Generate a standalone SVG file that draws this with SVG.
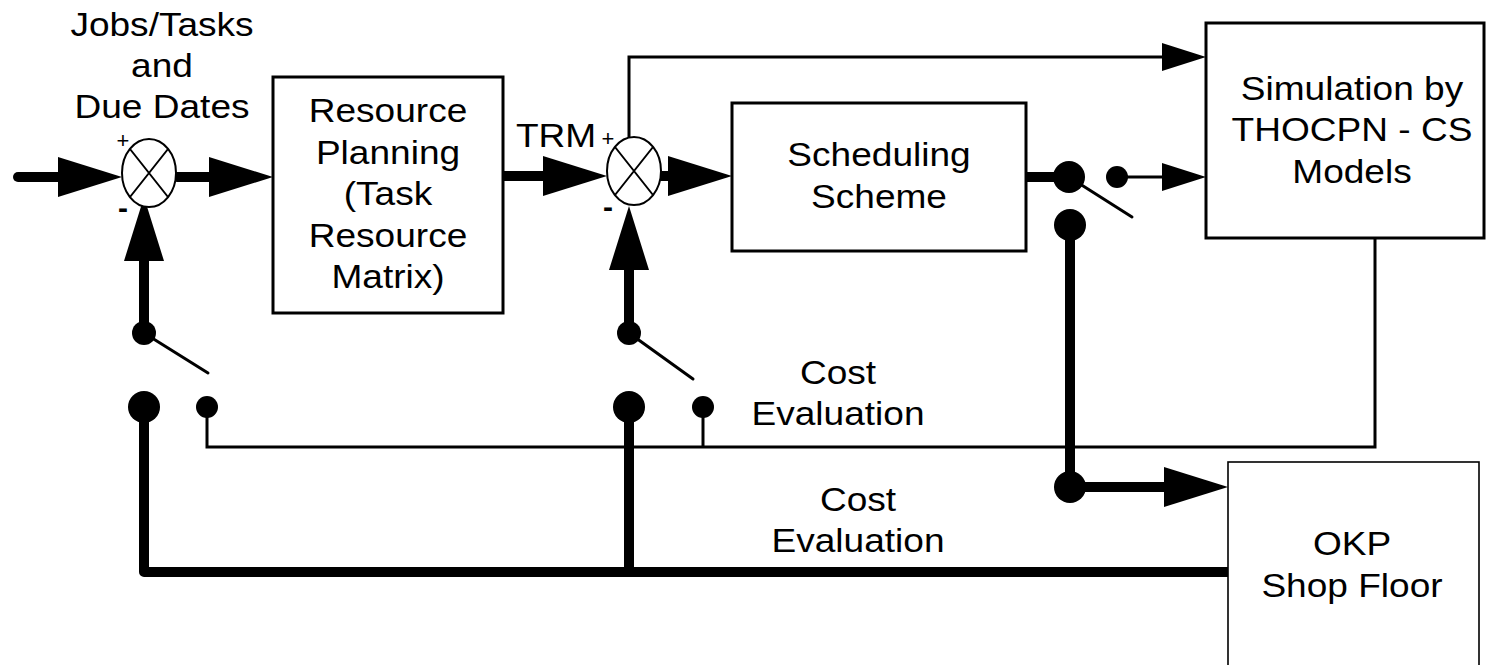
<svg xmlns="http://www.w3.org/2000/svg" xmlns:xlink="http://www.w3.org/1999/xlink" width="1486" height="665" viewBox="0 0 1486 665">
  <style>
    .box { fill: #fff; stroke: #000; stroke-width: 3; }
    .box-thin { fill: #fff; stroke: #000; stroke-width: 1.6; }
    .sum { fill: #fff; stroke: #000; stroke-width: 2; }
    .cross { stroke: #000; stroke-width: 2; fill: none; }
    .thick { fill: none; stroke: #000; stroke-width: 10; stroke-linecap: round; stroke-linejoin: round; }
    .thin { fill: none; stroke: #000; stroke-width: 3; stroke-linecap: butt; stroke-linejoin: miter; }
    .lever { stroke: #000; stroke-width: 3; stroke-linecap: round; }
    .dot { fill: #000; }
    .lbl { font-family: "Liberation Sans", Arial, sans-serif; font-size: 34px; fill: #000; text-anchor: middle; }
    .plus { font-family: "Liberation Sans", Arial, sans-serif; font-size: 22px; fill: #000; text-anchor: middle; }
    .minus { font-family: "Liberation Sans", Arial, sans-serif; font-size: 30px; font-weight: bold; fill: #000; text-anchor: middle; }
  </style>
  <defs>
    <!-- arrowheads drawn with the tip at the origin, pointing along +x -->
    <path id="ah-thick" d="M-64,-20 L0,0 L-64,20 Z" fill="#000"/>
    <path id="ah-thin" d="M-44,-14 L0,0 L-44,14 Z" fill="#000"/>
  </defs>

  <rect width="1486" height="665" fill="#fff"/>

  <!-- connectors -->
  <g id="connectors">
    <!-- main forward path -->
    <path class="thick" d="M18,177 H62"/>
    <use xlink:href="#ah-thick" transform="translate(122,177)"/>
    <path class="thick" d="M177,177 H212"/>
    <use xlink:href="#ah-thick" transform="translate(273,177)"/>
    <path class="thick" d="M503,176 H548"/>
    <use xlink:href="#ah-thick" transform="translate(607,176)"/>
    <path class="thick" d="M661,176 H672"/>
    <use xlink:href="#ah-thick" transform="translate(732,176)"/>

    <!-- feedback into the summing junctions -->
    <path class="thick" d="M144,333 V258"/>
    <use xlink:href="#ah-thick" transform="translate(144,197) rotate(-90)"/>
    <path class="thick" d="M629,333 V266"/>
    <use xlink:href="#ah-thick" transform="translate(629,206) rotate(-90)"/>

    <!-- bypass to the simulation model -->
    <path class="thin" d="M629,138 V57 H1166"/>
    <use xlink:href="#ah-thin" transform="translate(1206,57)"/>

    <!-- schedule output switch -->
    <path class="thick" d="M1026,177 H1069"/>
    <path class="thin" d="M1117,177 H1166"/>
    <use xlink:href="#ah-thin" transform="translate(1206,177)"/>
    <path class="thick" d="M1070,225 V487 H1166"/>
    <use xlink:href="#ah-thick" transform="translate(1228,487)"/>

    <!-- simulated cost evaluation return -->
    <path class="thin" d="M207,407 V447 H1375 V238"/>
    <path class="thin" d="M703,407 V447"/>

    <!-- shop floor cost evaluation return -->
    <path class="thick" d="M144,407 V572 H1228"/>
    <path class="thick" d="M629,407 V572"/>

    <!-- switch levers -->
    <line class="lever" x1="144" y1="333" x2="208" y2="373"/>
    <line class="lever" x1="629" y1="333" x2="693" y2="379"/>
    <line class="lever" x1="1069" y1="177" x2="1132" y2="217"/>

    <!-- switch contacts -->
    <circle class="dot" cx="144" cy="333" r="12"/>
    <circle class="dot" cx="629" cy="333" r="12"/>
    <circle class="dot" cx="144" cy="407" r="16"/>
    <circle class="dot" cx="629" cy="407" r="16"/>
    <circle class="dot" cx="207" cy="407" r="11"/>
    <circle class="dot" cx="703" cy="407" r="11"/>
    <circle class="dot" cx="1069" cy="177" r="16"/>
    <circle class="dot" cx="1117" cy="177" r="11"/>
    <circle class="dot" cx="1070" cy="225" r="16"/>
    <circle class="dot" cx="1070" cy="487" r="16"/>

    <!-- connector labels -->
    <text class="lbl" transform="translate(162,0) scale(1.09,1)"><tspan x="0" y="36">Jobs/Tasks</tspan><tspan x="0" y="77">and</tspan><tspan x="0" y="118">Due Dates</tspan></text>
    <text class="lbl" transform="translate(556,0) scale(1.09,1)"><tspan x="0" y="147">TRM</tspan></text>
    <text class="lbl" transform="translate(838,0) scale(1.09,1)"><tspan x="0" y="384">Cost</tspan><tspan x="0" y="425">Evaluation</tspan></text>
    <text class="lbl" transform="translate(858,0) scale(1.09,1)"><tspan x="0" y="511">Cost</tspan><tspan x="0" y="552">Evaluation</tspan></text>
  </g>

  <!-- summing junction 1 -->
  <g id="sum1">
    <ellipse class="sum" cx="149" cy="173" rx="27" ry="34"/>
    <path class="cross" d="M130,149 L168,197 M168,149 L130,197"/>
    <text class="plus" x="123" y="148">+</text>
    <text class="minus" x="123" y="218">-</text>
  </g>

  <!-- summing junction 2 -->
  <g id="sum2">
    <ellipse class="sum" cx="634" cy="171" rx="27" ry="34"/>
    <path class="cross" d="M615,147 L653,195 M653,147 L615,195"/>
    <text class="plus" x="608" y="146">+</text>
    <text class="minus" x="608" y="217">-</text>
  </g>

  <!-- resource planning -->
  <g id="resource-planning">
    <rect class="box" x="273" y="77" width="230" height="236"/>
    <text class="lbl" transform="translate(388,0) scale(1.09,1)"><tspan x="0" y="122">Resource</tspan><tspan x="0" y="164">Planning</tspan><tspan x="0" y="205">(Task</tspan><tspan x="0" y="247">Resource</tspan><tspan x="0" y="288">Matrix)</tspan></text>
  </g>

  <!-- scheduling scheme -->
  <g id="scheduling-scheme">
    <rect class="box" x="732" y="103" width="294" height="148"/>
    <text class="lbl" transform="translate(879,0) scale(1.09,1)"><tspan x="0" y="166">Scheduling</tspan><tspan x="0" y="208">Scheme</tspan></text>
  </g>

  <!-- simulation model -->
  <g id="simulation">
    <rect class="box" x="1206" y="23" width="278" height="215"/>
    <text class="lbl" transform="translate(1352,0) scale(1.09,1)"><tspan x="0" y="100">Simulation by</tspan><tspan x="0" y="141">THOCPN - CS</tspan><tspan x="0" y="183">Models</tspan></text>
  </g>

  <!-- shop floor -->
  <g id="shop-floor">
    <rect class="box-thin" x="1228" y="462" width="251" height="230"/>
    <text class="lbl" transform="translate(1352,0) scale(1.09,1)"><tspan x="0" y="555">OKP</tspan><tspan x="0" y="597">Shop Floor</tspan></text>
  </g>
</svg>
